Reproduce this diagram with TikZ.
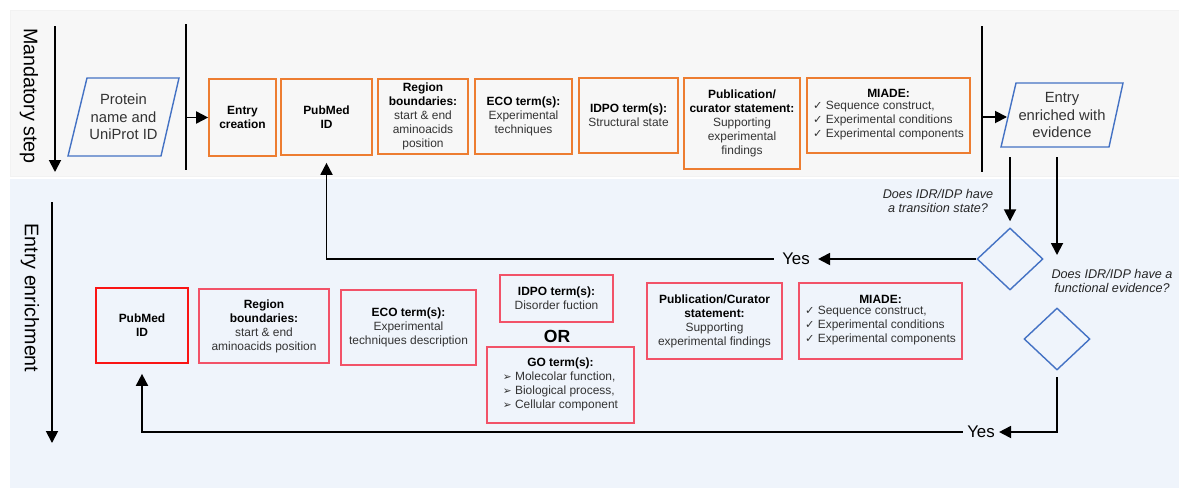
\documentclass[tikz,border=0pt]{standalone}
\usepackage{fontspec}
\setmainfont{Liberation Sans}
\newfontfamily\symfont{DejaVu Sans}
\usepackage{tikz}
\usetikzlibrary{shapes.geometric}
\usetikzlibrary{arrows.meta}

\definecolor{boxorange}{RGB}{237,125,49}
\definecolor{boxred}{RGB}{242,82,104}
\definecolor{pubred}{RGB}{250,20,20}
\definecolor{boxblue}{RGB}{68,114,196}
\definecolor{bandgray}{RGB}{247,247,247}
\definecolor{bandblue}{RGB}{239,244,251}

\newcommand{\hd}[1]{\textcolor{black}{\textbf{#1}}}
\newcommand{\ck}{{\symfont\fontsize{8}{10}\selectfont ✓}}
\newcommand{\pt}{{\symfont\fontsize{7.5}{10}\selectfont ➢}}

\begin{document}
\begin{tikzpicture}[x=0.25mm, y=-0.25mm,
    every node/.style={font=\fontsize{8.5}{10}\selectfont, text=black!80},
    obox/.style={draw=boxorange, line width=1.2pt, align=center, inner sep=1pt},
    rbox/.style={draw=boxred, line width=1.2pt, align=center, inner sep=1pt},
    para/.style={draw=boxblue, line width=1pt},
    dia/.style={diamond, draw=boxblue, line width=1pt, minimum width=16.5mm, minimum height=15.5mm, inner sep=0pt},
    arr/.style={line width=1.3pt, -{Triangle[length=3mm,width=3mm]}},
    lane/.style={font=\fontsize{14}{16}\selectfont, text=black, rotate=-90},
    yesnode/.style={font=\fontsize{12}{14}\selectfont, text=black, inner xsep=2mm, inner ysep=0pt},
    ask/.style={font=\fontsize{9}{10.5}\selectfont\itshape, text=black!85, align=center}]

    \useasboundingbox (0,0) rectangle (1179,488);

    % draw the two bands
    \path[fill=bandgray, draw=black!5] (10,10) rectangle (1179,176);
    \path[fill=bandblue] (10,179) rectangle (1179,488);

    % lane arrows and names
    \path[draw, arr] (55,26) -- (55,172);
    \path[draw, arr] (52,202) -- (52,443);
    \node[lane] (mandlbl) at (29,96) {Mandatory step};
    \node[lane] (enrlbl) at (30,298) {Entry enrichment};

    % mandatory step
    \path[para] (68,156) -- (87,78) -- (179,78) -- (161,156) -- cycle;
    \node[align=center, font=\fontsize{10.5}{12.5}\selectfont] (protein) at (123.5,117) {Protein\\name and\\UniProt ID};

    \path[draw, line width=1.3pt] (186,24) -- (186,170);
    \path[draw, line width=1.3pt] (982,26) -- (982,172);
    \coordinate (sep1) at (186,117.5);
    \coordinate (sep2) at (982,117);

    \node[obox, minimum width=16.75mm, minimum height=19.25mm] (entry) at (242.5,117.5) {\hd{Entry}\\\hd{creation}};
    \node[obox, minimum width=22.75mm, minimum height=19mm] (pubmed) at (326.5,117) {\hd{PubMed}\\\hd{ID}};
    \node[obox, minimum width=22.5mm, minimum height=18.75mm] (region) at (423,116.5) {\hd{Region}\\\hd{boundaries:}\\start \& end\\aminoacids\\position};
    \node[obox, minimum width=24.25mm, minimum height=18.75mm] (eco) at (523.5,116.5) {\hd{ECO term(s):}\\Experimental\\techniques};
    \node[obox, minimum width=24.75mm, minimum height=18.75mm] (idpo) at (628.5,115.5) {\hd{IDPO term(s):}\\Structural state};
    \node[obox, minimum width=29mm, minimum height=22.75mm] (pub) at (742,123.5) {\hd{Publication/}\\\hd{curator statement:}\\Supporting\\experimental\\findings};
    \node[obox, minimum width=40.75mm, minimum height=18.75mm] (miade) at (888.5,115.5) {\hd{MIADE:}\\\begin{tabular}{@{}l@{}}\ck\ Sequence construct,\\\ck\ Experimental conditions\\\ck\ Experimental components\end{tabular}};

    \path[para] (1001,147) -- (1016,83) -- (1123,83) -- (1109,147) -- cycle;
    \node[align=center, font=\fontsize{10.5}{12.5}\selectfont] (enriched) at (1062,115) {Entry\\enriched with\\evidence};
    \coordinate (enrin) at (1007,117);

    \path[draw, arr] (sep1) -- (entry);
    \path[draw, arr] (sep2) -- (enrin);

    % questions
    \coordinate (q1top) at (1010,157);
    \coordinate (q2top) at (1057,157);
    \coordinate (q2end) at (1057,255);
    \node[dia] (d1) at (1010,259) {};
    \node[dia] (d2) at (1057,339) {};
    \node[ask] (ask1) at (938,201) {Does IDR/IDP have\\a transition state?};
    \node[ask] (ask2) at (1112,281) {Does IDR/IDP have a\\functional evidence?};
    \path[draw, arr, shorten >=1.5mm] (q1top) -- (d1.north);
    \path[draw, arr] (q2top) -- (q2end);

    % entry enrichment
    \node[rbox, draw=pubred, minimum width=23mm, minimum height=18.75mm] (pubmed2) at (142,325.5) {\hd{PubMed}\\\hd{ID}};
    \node[rbox, minimum width=32.5mm, minimum height=18.5mm] (region2) at (264,326) {\hd{Region}\\\hd{boundaries:}\\start \& end\\aminoacids position};
    \node[rbox, minimum width=33.75mm, minimum height=18.75mm] (eco2) at (408.5,327.5) {\hd{ECO term(s):}\\Experimental\\techniques description};
    \node[rbox, minimum width=28.25mm, minimum height=11.75mm] (idpo2) at (556.5,298.5) {\hd{IDPO term(s):}\\Disorder fuction};
    \node[font=\fontsize{12.5}{14}\selectfont\bfseries, text=black] (or) at (557,336) {OR};
    \node[rbox, minimum width=36.75mm, minimum height=19mm] (go) at (560.5,385) {\hd{GO term(s):}\\\begin{tabular}{@{}l@{}}\pt\ Molecolar function,\\\pt\ Biological process,\\\pt\ Cellular component\end{tabular}};
    \node[rbox, minimum width=33.75mm, minimum height=19mm] (pub2) at (714.5,321) {\hd{Publication/Curator}\\\hd{statement:}\\Supporting\\experimental findings};
    \node[rbox, minimum width=40.75mm, minimum height=19mm] (miade2) at (880.5,321) {\hd{MIADE:}\\\begin{tabular}{@{}l@{}}\ck\ Sequence construct,\\\ck\ Experimental conditions\\\ck\ Experimental components\end{tabular}};

    % the two yes loops
    \node[yesnode] (yes1) at (796,259) {Yes};
    \node[yesnode, inner xsep=1mm] (yes2) at (981,432) {Yes};
    \coordinate (d2out) at (1057,377);

    \path[draw, arr] (d1) -- (yes1);
    \path[draw, arr, shorten >=1.75mm] (yes1) -| (pubmed);
    \path[draw, arr] (d2out) |- (yes2);
    \path[draw, arr, shorten >=2.5mm] (yes2) -| (pubmed2);

\end{tikzpicture}
\end{document}
